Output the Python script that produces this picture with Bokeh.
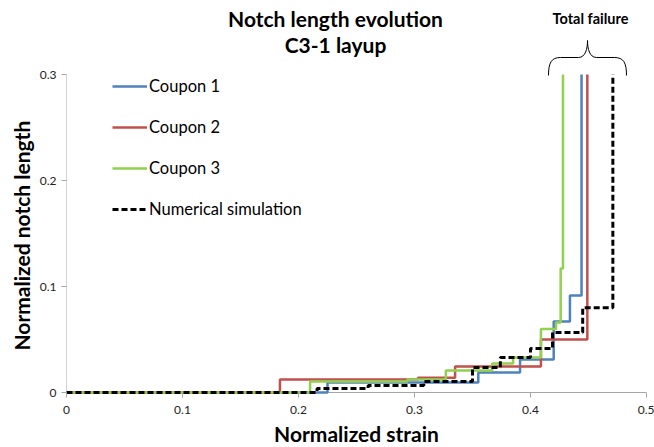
from bokeh.plotting import figure
from bokeh.models import Range1d, FixedTicker, Label, Title
from bokeh.embed import file_html
from bokeh.resources import INLINE

# ---- data (normalized strain, normalized notch length), step "after" ----
c1_x = [0, 0.225, 0.355, 0.391, 0.420, 0.434, 0.444]
c1_y = [0, 0.0094, 0.0189, 0.0311, 0.067, 0.0915, 0.3]
c2_x = [0, 0.184, 0.303, 0.335, 0.409, 0.449]
c2_y = [0, 0.0123, 0.0140, 0.0245, 0.050, 0.3]
c3_x = [0, 0.210, 0.294, 0.327, 0.367, 0.385, 0.409, 0.422, 0.426, 0.428]
c3_y = [0, 0.0104, 0.0123, 0.0208, 0.0274, 0.033, 0.060, 0.066, 0.117, 0.3]
num_x = [0, 0.216, 0.260, 0.308, 0.350, 0.374, 0.400, 0.419, 0.445, 0.471]
num_y = [0, 0.0038, 0.0066, 0.0104, 0.0236, 0.033, 0.0415, 0.0566, 0.080, 0.3]

x_ticks = [0, 0.1, 0.2, 0.3, 0.4, 0.5]
y_ticks = [0, 0.1, 0.2, 0.3]
series_names = ["Coupon 1", "Coupon 2", "Coupon 3", "Numerical simulation"]
title_lines = ["Notch length evolution", "C3-1 layup"]
annot_text = "Total failure"
x_label = "Normalized strain"
y_label = "Normalized  notch length"

FONT = "Lato"

# page-pixel -> data helpers (frame: x 0..0.5 over 580 px, y 0..0.3 over 318 px)
PX_X = 580 / 0.5
PX_Y = 318 / 0.3
def dx(px):
    return (px - 66) / PX_X
def dy(py):
    return (392 - py) / PX_Y

p = figure(frame_width=580, frame_height=386, output_backend="svg", toolbar_location=None,
           x_range=Range1d(0, 0.5), y_range=Range1d(dy(394), dy(8)),
           min_border_left=66, min_border_right=8, min_border_top=8, min_border_bottom=0)
p.outline_line_color = None
p.xgrid.visible = False
p.ygrid.visible = False
p.background_fill_color = "white"

# axes
for ax in (p.xaxis[0], p.yaxis[0]):
    ax.axis_line_color = None
    ax.major_tick_line_color = "#A6A6A6"
    ax.minor_tick_line_color = None
    ax.major_label_text_font = FONT
    ax.major_label_text_font_size = "12px"
    ax.major_label_text_color = "#222222"
    ax.axis_label_text_font = FONT
    ax.axis_label_text_font_style = "bold"
    ax.axis_label_text_font_size = "21px"
    ax.axis_label_text_color = "black"

p.xaxis.ticker = FixedTicker(ticks=x_ticks)
p.yaxis.ticker = FixedTicker(ticks=y_ticks)
p.xaxis.major_label_overrides = {0: "0"}
p.yaxis.major_label_overrides = {0: "0"}
p.xaxis.major_tick_in = 2
p.xaxis.major_tick_out = 3
p.yaxis.major_tick_in = 0
p.yaxis.major_tick_out = 5
p.xaxis.major_label_standoff = 8
p.yaxis.major_label_standoff = 5
p.xaxis.axis_label = x_label
p.xaxis.axis_label_standoff = 4

# y-axis label, placed along the 0..0.3 span of the axis
p.add_layout(Title(text=y_label, align="left", offset=44, standoff=6,
                   text_font=FONT, text_font_size="21px", text_font_style="bold",
                   text_color="black"), "left")

# axis lines drawn at zero
p.line([0, 0.5], [0, 0], line_color="#A6A6A6", line_width=1)
p.line([0, 0], [0, y_ticks[-1]], line_color="#A6A6A6", line_width=1)

colors = ["#4F81BD", "#C0504D", "#92D050"]
for xs, ys, c, n in zip([c1_x, c2_x, c3_x], [c1_y, c2_y, c3_y], colors, series_names[:3]):
    p.step(xs, ys, mode="after", line_color=c, line_width=2.5, legend_label=n)
p.step(num_x, num_y, mode="after", line_color="black", line_width=3,
       line_dash="6 3", legend_label=series_names[3])

lg = p.legend[0]
lg.location = (46, 175)
lg.padding = 10
lg.margin = 0
lg.spacing = 21
lg.label_height = 20
lg.glyph_height = 20
lg.glyph_width = 35
lg.label_standoff = 2
lg.border_line_color = None
lg.background_fill_alpha = 0
lg.label_text_font = FONT
lg.label_text_font_size = "16.5px"
lg.label_text_color = "black"

# titles and annotation
for txt, py in zip(title_lines, [18, 44]):
    p.add_layout(Label(x=dx(335), y=dy(py), text=txt, text_align="center",
                       text_baseline="middle", text_font=FONT, text_font_size="21px",
                       text_font_style="bold", text_color="black"))
p.add_layout(Label(x=dx(590), y=dy(18), text=annot_text, text_align="center",
                   text_baseline="middle", text_font=FONT, text_font_size="14.5px",
                   text_font_style="bold", text_color="black"))

# curly brace over the failure points
bx0 = [548, 578, 587, 614]
by0 = [75, 57, 40, 57]
bx1 = [560, 587, 596, 626]
by1 = [57, 40, 57, 75]
cx0 = [548, 585, 587, 623]
cy0 = [62, 57, 48, 57]
cx1 = [551, 587, 589, 626]
cy1 = [57, 48, 57, 62]
p.bezier(x0=[dx(v) for v in bx0], y0=[dy(v) for v in by0],
         x1=[dx(v) for v in bx1], y1=[dy(v) for v in by1],
         cx0=[dx(v) for v in cx0], cy0=[dy(v) for v in cy0],
         cx1=[dx(v) for v in cx1], cy1=[dy(v) for v in cy1],
         line_color="black", line_width=1)
p.segment(x0=[dx(560), dx(596)], y0=[dy(57), dy(57)], x1=[dx(578), dx(614)], y1=[dy(57), dy(57)],
          line_color="black", line_width=1)

open("out.html", "w").write(file_html(p, INLINE))
